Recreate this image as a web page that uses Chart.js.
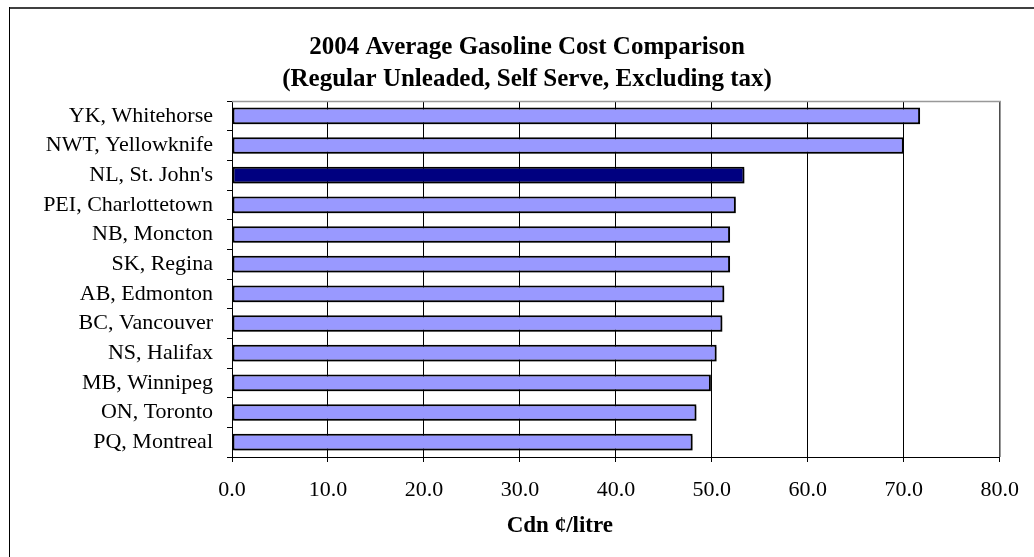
<!DOCTYPE html>
<html>
<head>
<meta charset="utf-8">
<script src="https://cdn.jsdelivr.net/npm/chart.js@4/dist/chart.umd.min.js"></script>
<style>
  html, body { margin: 0; padding: 0; background: #fff; }
  #wrap { width: 1034px; height: 557px; }
</style>
</head>
<body>
<div id="wrap"><canvas id="myChart" width="1034" height="557"></canvas></div>
<script>
var cities = ['YK, Whitehorse', 'NWT, Yellowknife', "NL, St. John's", 'PEI, Charlottetown', 'NB, Moncton',
  'SK, Regina', 'AB, Edmonton', 'BC, Vancouver', 'NS, Halifax', 'MB, Winnipeg', 'ON, Toronto', 'PQ, Montreal'];
var cost = [71.7, 70.0, 53.4, 52.5, 51.9, 51.9, 51.3, 51.1, 50.5, 49.9, 48.4, 48.0];
var highlightCity = "NL, St. John's";
var titleLines = ['2004 Average Gasoline Cost Comparison', '(Regular Unleaded, Self Serve, Excluding tax)'];
var axisTitle = 'Cdn \u00a2/litre';

var serif = '"Liberation Serif", "Times New Roman", serif';
var barColors = cities.map(function (c) { return c === highlightCity ? '#000080' : '#9999ff'; });

// bar shadows, frame lines (top + left only, like the cropped original), grey plot border,
// and the two titles, which sit off-centre in the original
var framePlugin = {
  id: 'frame',
  beforeDatasetsDraw: function (chart) {
    var ctx = chart.ctx;
    ctx.save();
    ctx.shadowColor = 'rgba(0,0,0,0.3)';
    ctx.shadowOffsetX = 2;
    ctx.shadowOffsetY = 2;
  },
  afterDatasetsDraw: function (chart) {
    chart.ctx.restore();
  },
  afterDraw: function (chart) {
    var ctx = chart.ctx, a = chart.chartArea;
    ctx.save();
    ctx.strokeStyle = '#999';
    ctx.lineWidth = 1.5;
    ctx.beginPath();
    ctx.moveTo(a.left, a.top + 0.5);
    ctx.lineTo(a.right + 0.5, a.top + 0.5);
    ctx.lineTo(a.right + 0.5, a.bottom);
    ctx.stroke();
    ctx.strokeStyle = '#404040';
    ctx.lineWidth = 2;
    ctx.beginPath();
    ctx.moveTo(9, 8);
    ctx.lineTo(chart.width, 8);
    ctx.stroke();
    ctx.strokeStyle = '#000';
    ctx.lineWidth = 1;
    ctx.beginPath();
    ctx.moveTo(9.5, 7);
    ctx.lineTo(9.5, chart.height);
    ctx.stroke();

    ctx.fillStyle = '#000';
    ctx.textAlign = 'center';
    ctx.textBaseline = 'middle';
    ctx.font = 'bold 25px ' + serif;
    ctx.fillText(titleLines[0], chart.width / 2 + 10, a.top - 53);
    ctx.fillText(titleLines[1], chart.width / 2 + 10, a.top - 21);
    ctx.font = 'bold 23px ' + serif;
    ctx.fillText(axisTitle, a.left + (a.right - a.left) * 0.427, a.bottom + 69);
    ctx.restore();
  }
};

var ctx = document.getElementById('myChart');
var myChart = new Chart(ctx, {
  type: 'bar',
  data: {
    labels: cities,
    datasets: [{
      data: cost,
      backgroundColor: barColors,
      borderColor: '#000',
      borderWidth: 2,
      borderSkipped: false,
      barPercentage: 0.56,
      categoryPercentage: 1.0
    }]
  },
  options: {
    indexAxis: 'y',
    responsive: false,
    animation: false,
    layout: { padding: { top: 101, left: 10, right: 33, bottom: 0 } },
    plugins: {
      legend: { display: false },
      tooltip: { enabled: false },
      title: { display: false }
    },
    scales: {
      x: {
        min: 0,
        max: 80,
        ticks: {
          stepSize: 10,
          color: '#000',
          padding: 15,
          font: { family: serif, size: 22 },
          callback: function (v) { return v.toFixed(1); }
        },
        grid: { color: '#000', lineWidth: 1, tickLength: 5 },
        border: { color: '#000', width: 1 },
        afterFit: function (scale) { scale.height = 100; }
      },
      y: {
        ticks: {
          color: '#000',
          padding: 14,
          autoSkip: false,
          font: { family: serif, size: 22 }
        },
        grid: { drawOnChartArea: false, drawTicks: true, tickLength: 5, color: '#000' },
        border: { color: '#000', width: 1 },
        afterFit: function (scale) { scale.width = 222; }
      }
    }
  },
  plugins: [framePlugin]
});
</script>
</body>
</html>
